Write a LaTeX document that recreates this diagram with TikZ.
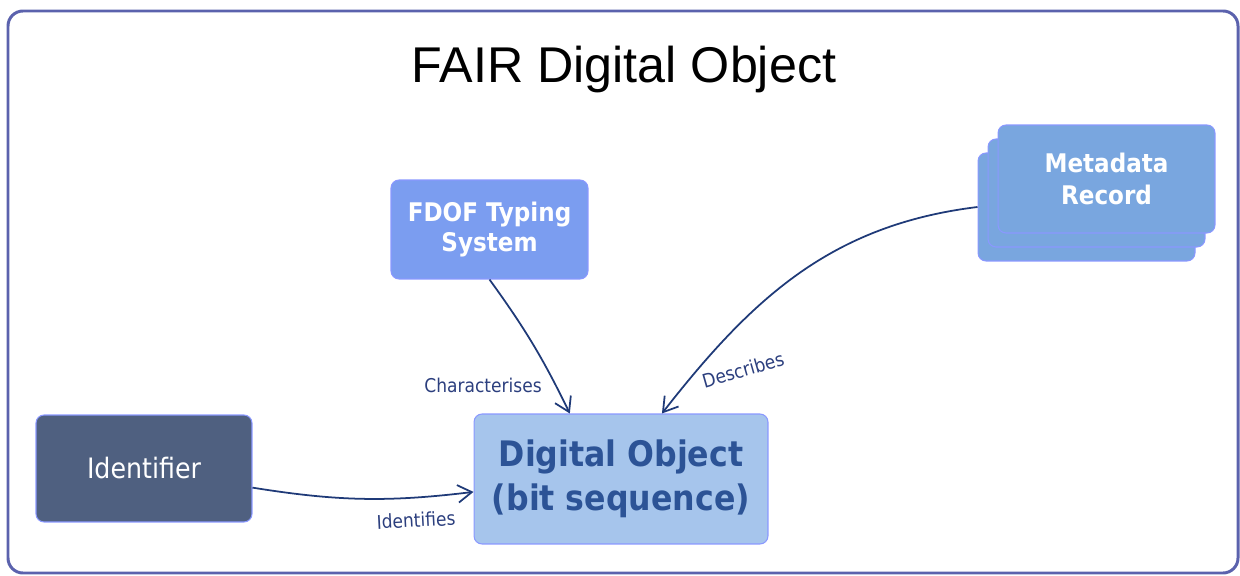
\documentclass[tikz,border=0pt]{standalone}
\usepackage{fontspec}
\setmainfont{Liberation Sans}
\newfontfamily\boxfont{DejaVu Sans Condensed}
\usetikzlibrary{arrows.meta, shadows, calc, positioning}
\definecolor{framecol}{HTML}{5B62AD}
\definecolor{boxline}{HTML}{8A98FF}
\definecolor{typefill}{HTML}{7B9DF0}
\definecolor{metafill}{HTML}{79A6DF}
\definecolor{idfill}{HTML}{4F6080}
\definecolor{objfill}{HTML}{A6C5EC}
\definecolor{objtext}{HTML}{2C5396}
\definecolor{arrowcol}{HTML}{1F3A78}
\definecolor{labelcol}{HTML}{2C3F7E}
\tikzstyle{fdobox} = [rectangle, rounded corners=0.16cm, draw=boxline, line width=0.6pt, align=center, inner sep=0pt]
\tikzstyle{typebox} = [fdobox, fill=typefill, text=white, font=\boxfont\bfseries\fontsize{14.6}{17}\selectfont, minimum width=3.94cm, minimum height=1.98cm]
\tikzstyle{metabox} = [fdobox, fill=metafill, text=white, font=\boxfont\bfseries\fontsize{14.6}{18}\selectfont, minimum width=4.34cm, minimum height=2.16cm, double copy shadow={shadow xshift=-0.2cm, shadow yshift=-0.28cm, fill=metafill, draw=boxline, line width=0.6pt}]
\tikzstyle{idbox} = [fdobox, fill=idfill, text=white, font=\boxfont\fontsize{16}{19}\selectfont, minimum width=4.32cm, minimum height=2.14cm]
\tikzstyle{objbox} = [fdobox, fill=objfill, text=objtext, font=\boxfont\bfseries\fontsize{20}{25}\selectfont, minimum width=5.88cm, minimum height=2.6cm]
\tikzstyle{relarrow} = [-{Straight Barb[length=8pt,width=10pt]}, line width=1pt, draw=arrowcol]
\tikzstyle{rellabel} = [text=labelcol, font=\boxfont\fontsize{10.8}{13}\selectfont, inner sep=0pt]

\begin{document}
\begin{tikzpicture}[x=0.02cm, y=0.02cm]
		\useasboundingbox (0,0) rectangle (1240,575);
		\draw [framecol, line width=1.7pt, rounded corners=0.3cm] (8,2) rectangle (1238,564);
		\node (title) [anchor=base, font=\fontsize{28.6}{34}\selectfont] at (624,492) {FAIR Digital Object};
		\node (typing) [typebox] at (489.5,345.5) {FDOF Typing\\System};
		\node (meta) [metabox] at (1106.5,396) {Metadata\\Record};
		\node (ident) [idbox] at (144,106.5) {Identifier};
		\node (object) [objbox] at (621,96) {Digital Object\\(bit sequence)};
		\coordinate (metaback) at ($(meta.west)+(-20,-28)$);
		\draw [relarrow] (ident.-10) to[bend right=8] (object.185);
		\draw [relarrow] (typing.south) to[bend left=5] (object.128);
		\draw [relarrow] (metaback) to[out=187, in=52] (object.58);
		\node (identifies) [rellabel, rotate=3] at (416,55) {Identifies};
		\node (characterises) [rellabel] at (483,190) {Characterises};
		\node (describes) [rellabel, rotate=16] at (743,205) {Describes};
	\end{tikzpicture}
\end{document}
